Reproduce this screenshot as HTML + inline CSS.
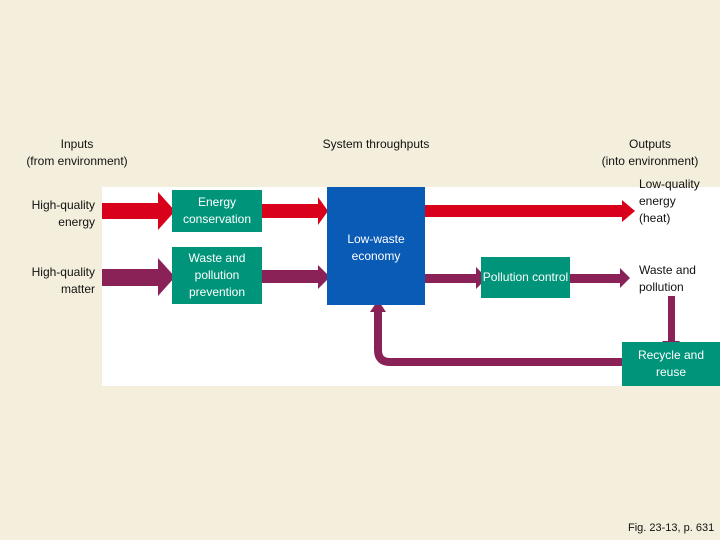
<!DOCTYPE html>
<html><head><style>
body{margin:0;width:720px;height:540px;background:#f3efdc;position:relative;overflow:hidden;font-family:"Liberation Sans",sans-serif;}
.t{position:absolute;font-size:12px;line-height:17px;color:#111;}
.c{text-align:center}.r{text-align:right}
.box{position:absolute;background:#00957a;color:#fff;font-size:12px;line-height:17px;text-align:center;display:flex;align-items:center;justify-content:center;}
</style></head><body>
<div style="position:absolute;left:102px;top:187px;width:618px;height:199px;background:#fff"></div>
<svg width="720" height="540" style="position:absolute;left:0;top:0">
<g fill="#d9001b">
<polygon points="102,203 158,203 158,192 175,211 158,230 158,219 102,219"/>
<polygon points="262,204 318,204 318,197 328,211 318,225 318,218 262,218"/>
<polygon points="425,205 622,205 622,200 635,211 622,222 622,217 425,217"/>
</g>
<g fill="#8b2257">
<polygon points="102,269 158,269 158,258 175,277 158,296 158,286 102,286"/>
<polygon points="262,270 318,270 318,265 330,277 318,289 318,283 262,283"/>
<polygon points="425,274 476,274 476,267 487,278 476,289 476,283 425,283"/>
<polygon points="570,274 620,274 620,268 630,278 620,288 620,283 570,283"/>
<polygon points="668,296 675,296 675,341 680,341 671,352 662,341 668,341"/>
</g>
<path d="M622,362 L390,362 Q378,362 378,350 L378,308" stroke="#8b2257" stroke-width="8" fill="none"/>
<polygon points="370,312 378,300 386,312" fill="#8b2257"/>
</svg>
<div class="box" style="left:172px;top:190px;width:90px;height:42px">Energy<br>conservation</div>
<div class="box" style="left:172px;top:247px;width:90px;height:57px">Waste and<br>pollution<br>prevention</div>
<div class="box" style="left:327px;top:187px;width:98px;height:118px;background:#0a5bb5;align-items:flex-start;padding-top:44px;box-sizing:border-box">Low-waste<br>economy</div>
<div class="box" style="left:481px;top:257px;width:89px;height:41px;white-space:nowrap;overflow:hidden">Pollution control</div>
<div class="box" style="left:622px;top:342px;width:98px;height:44px">Recycle and<br>reuse</div>
<div class="t c" style="left:0;top:136px;width:154px">Inputs<br>(from environment)</div>
<div class="t c" style="left:296px;top:136px;width:160px">System throughputs</div>
<div class="t c" style="left:580px;top:136px;width:140px">Outputs<br>(into environment)</div>
<div class="t r" style="left:0;top:197px;width:95px">High-quality<br>energy</div>
<div class="t r" style="left:0;top:264px;width:95px">High-quality<br>matter</div>
<div class="t" style="left:639px;top:176px">Low-quality<br>energy<br>(heat)</div>
<div class="t" style="left:639px;top:262px">Waste and<br>pollution</div>
<div class="t" style="left:628px;top:520px;font-size:11px">Fig. 23-13, p. 631</div>
</body></html>
